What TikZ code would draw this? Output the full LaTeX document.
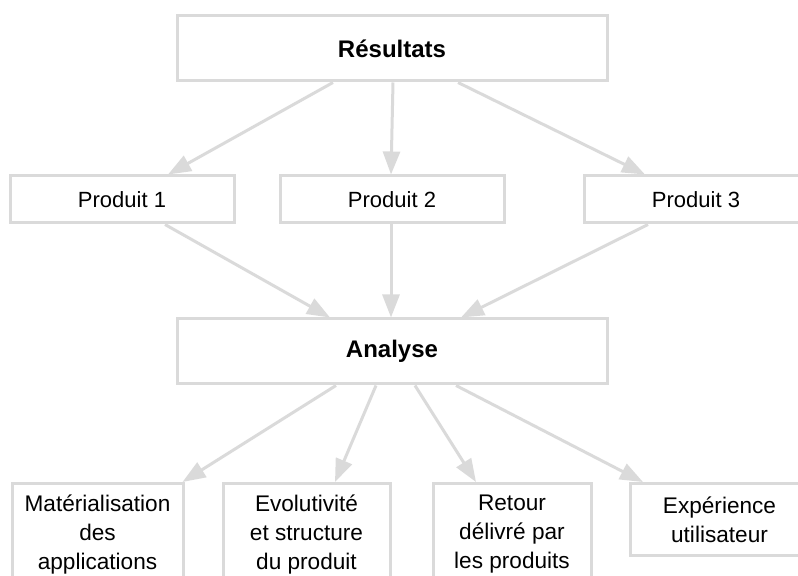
\documentclass[tikz,border=0pt]{standalone}
\usepackage{fontspec}
\setmainfont{Liberation Sans}
\usepackage{tikz}
\usetikzlibrary{positioning,arrows.meta}

\definecolor{linegray}{HTML}{DADADA}

\begin{document}
\begin{tikzpicture}[
    x=0.5pt, y=-0.5pt,
    box/.style={
        draw=linegray,
        line width=1.5pt,
        align=center,
        inner sep=2pt,
        font=\fontsize{11}{14.5}\selectfont
    },
    mainbox/.style={
        box,
        minimum width=215pt,
        minimum height=32.5pt,
        font=\fontsize{12}{14.5}\selectfont\bfseries
    },
    prodbox/.style={
        box,
        minimum width=112pt,
        minimum height=23.5pt
    },
    leafbox/.style={
        box,
        anchor=north,
        minimum height=51pt,
        font=\fontsize{11.3}{14.5}\selectfont
    },
    arrow/.style={
        draw=linegray,
        line width=1.5pt,
        -{Triangle[length=11.5pt,width=8.5pt]}
    }
]

\useasboundingbox (0,0) rectangle (798,576);

\node[mainbox] (res) at (392,48.5) {Résultats};

\node[prodbox, below=46pt of res] (p2) {Produit 2};
\node[prodbox, left=21.5pt of p2] (p1) {Produit 1};
\node[prodbox, right=38.5pt of p2] (p3) {Produit 3};

\node[mainbox, below=46.5pt of p2] (ana) {Analyse};

\node[leafbox, minimum width=85.5pt] (mat) at (97.5,482) {Matérialisation\\des\\applications};
\node[leafbox, minimum width=83.5pt] (evo) at (306.5,482) {Evolutivité\\et structure\\du produit};
\node[leafbox, minimum width=79pt] (ret) at (512,482) {Retour\\délivré par\\les produits};
\node[leafbox, minimum width=89.5pt, minimum height=36pt] (exp) at (719.5,482) {Expérience\\utilisateur};

\draw[arrow] ([xshift=-29.5pt]res.south) -- ([xshift=23pt]p1.north);
\draw[arrow] ([xshift=0.5pt]res.south) -- ([xshift=-0.5pt]p2.north);
\draw[arrow] ([xshift=33pt]res.south) -- ([xshift=-25.5pt]p3.north);

\draw[arrow] ([xshift=21.5pt]p1.south) -- ([xshift=-31pt]ana.north);
\draw[arrow] ([xshift=-0.5pt]p2.south) -- ([xshift=-0.5pt]ana.north);
\draw[arrow] ([xshift=-24pt]p3.south) -- ([xshift=34.5pt]ana.north);

\draw[arrow] ([xshift=-28pt]ana.south) -- ([xshift=-1pt]mat.north east);
\draw[arrow] ([xshift=-8pt]ana.south) -- ([xshift=14.25pt]evo.north);
\draw[arrow] ([xshift=11.5pt]ana.south) -- ([xshift=-18pt]ret.north);
\draw[arrow] ([xshift=32pt]ana.south) -- ([xshift=-38.25pt]exp.north);

\end{tikzpicture}
\end{document}
